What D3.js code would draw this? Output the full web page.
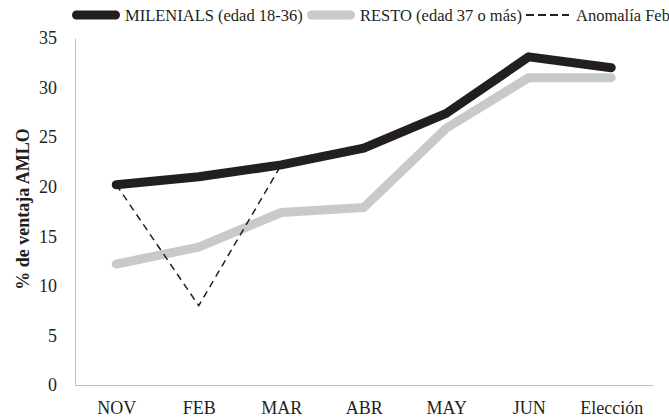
<!DOCTYPE html>
<html>
<head>
<meta charset="utf-8">
<script src="https://cdn.jsdelivr.net/npm/d3@7"></script>
<style>
  body { margin: 0; background: #fff; }
  text { font-family: "Liberation Serif", "Times New Roman", serif; fill: #231f20; }
</style>
</head>
<body>
<div id="chart"></div>
<script>
// data
const categories = ["NOV", "FEB", "MAR", "ABR", "MAY", "JUN", "Elección"];
const milenials = [20.2, 21.0, 22.2, 23.9, 27.4, 33.1, 32.0];
const resto = [12.2, 13.9, 17.4, 17.9, 25.9, 31.0, 31.0];
const anomalia = [20.2, 8.0, 22.2];
const yTicks = [0, 5, 10, 15, 20, 25, 30, 35];
const legendLabels = ["MILENIALS (edad 18-36)", "RESTO (edad 37 o más)", "Anomalía Feb"];

const width = 669, height = 419;
const plot = { left: 75, right: 652.5, top: 38, bottom: 385 };
const serif = '"Liberation Serif", "Times New Roman", serif';

const svg = d3.select("#chart").append("svg")
    .attr("width", width)
    .attr("height", height);

// scales
const x = d3.scalePoint()
    .domain(categories)
    .range([plot.left, plot.right])
    .padding(0.5);

const y = d3.scaleLinear()
    .domain([0, 35])
    .range([plot.bottom, plot.top]);

// axes
const xAxis = svg.append("g")
    .attr("transform", `translate(0,${plot.bottom})`)
    .call(d3.axisBottom(x).tickSize(0).tickSizeOuter(0).tickPadding(16));

const yAxis = svg.append("g")
    .attr("transform", `translate(${plot.left},0)`)
    .call(d3.axisLeft(y).tickValues(yTicks).tickSize(0).tickSizeOuter(0).tickPadding(18));

[xAxis, yAxis].forEach(g => {
    g.attr("font-family", serif).attr("font-size", 18);
    g.select(".domain").attr("stroke", "#bfbfbf").attr("stroke-width", 1);
    g.selectAll("text").attr("fill", "#231f20");
});

// y axis title
svg.append("text")
    .attr("transform", "translate(23,209) rotate(-90)")
    .attr("text-anchor", "middle")
    .attr("dy", "0.35em")
    .attr("font-family", serif)
    .attr("font-size", 18)
    .attr("font-weight", "bold")
    .text("% de ventaja AMLO");

// lines
const line = d3.line()
    .x((d, i) => x(categories[i]))
    .y(d => y(d));

svg.append("path")
    .datum(resto)
    .attr("d", line)
    .attr("fill", "none")
    .attr("stroke", "#c8c9cb")
    .attr("stroke-width", 9)
    .attr("stroke-linecap", "round")
    .attr("stroke-linejoin", "round");

svg.append("path")
    .datum(milenials)
    .attr("d", line)
    .attr("fill", "none")
    .attr("stroke", "#231f20")
    .attr("stroke-width", 9)
    .attr("stroke-linecap", "round")
    .attr("stroke-linejoin", "round");

svg.append("path")
    .datum(anomalia)
    .attr("d", line)
    .attr("fill", "none")
    .attr("stroke", "#231f20")
    .attr("stroke-width", 1.5)
    .attr("stroke-dasharray", "7,5");

// legend
const legend = svg.append("g");
const legendItems = [
    { x0: 76.5, x1: 115.5, tx: 125, stroke: "#231f20", w: 9, dash: null, cap: "round" },
    { x0: 311.5, x1: 350.5, tx: 360, stroke: "#c8c9cb", w: 9, dash: null, cap: "round" },
    { x0: 526, x1: 569, tx: 576, stroke: "#231f20", w: 2, dash: "8,4", cap: "butt" }
];

legendItems.forEach((d, i) => {
    legend.append("line")
        .attr("x1", d.x0).attr("x2", d.x1)
        .attr("y1", 15).attr("y2", 15)
        .attr("stroke", d.stroke)
        .attr("stroke-width", d.w)
        .attr("stroke-linecap", d.cap)
        .attr("stroke-dasharray", d.dash);
    legend.append("text")
        .attr("x", d.tx)
        .attr("y", 15)
        .attr("dy", "0.35em")
        .attr("font-family", serif)
        .attr("font-size", 16.5)
        .text(legendLabels[i]);
});
</script>
</body>
</html>
